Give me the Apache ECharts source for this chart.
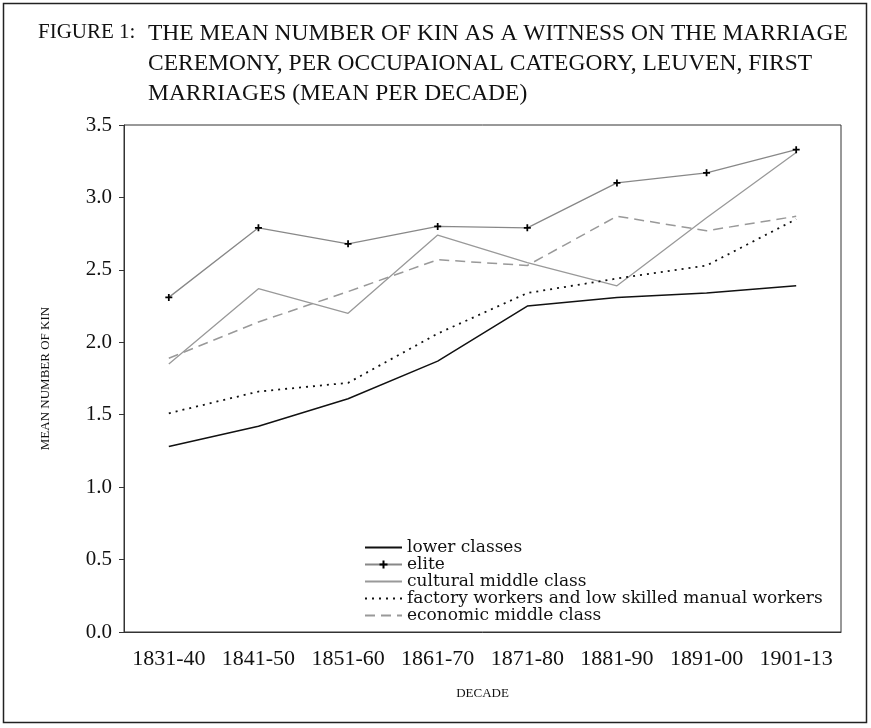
<!DOCTYPE html>
<html>
<head>
<meta charset="utf-8">
<script src="https://cdn.jsdelivr.net/npm/echarts@6/dist/echarts.min.js"></script>
<style>
  html, body { margin: 0; padding: 0; background: #fff; }
  #main { width: 871px; height: 728px; }
</style>
</head>
<body>
<div id="main"></div>
<script>
var decades = ['1831-40', '1841-50', '1851-60', '1861-70', '1871-80', '1881-90', '1891-00', '1901-13']
var lowerClasses = [1.28, 1.42, 1.61, 1.87, 2.25, 2.31, 2.34, 2.39]
var elite = [2.31, 2.79, 2.68, 2.80, 2.79, 3.10, 3.17, 3.33]
var culturalMiddle = [1.85, 2.37, 2.20, 2.74, 2.55, 2.39, 2.86, 3.31]
var factoryWorkers = [1.51, 1.66, 1.72, 2.06, 2.34, 2.44, 2.53, 2.85]
var economicMiddle = [1.89, 2.14, 2.35, 2.57, 2.53, 2.87, 2.77, 2.87]
var yTicks = ['0.0', '0.5', '1.0', '1.5', '2.0', '2.5', '3.0', '3.5']

var serif = 'Liberation Serif'
var chart = echarts.init(document.getElementById('main'))

// no marker in the legend except for the elite line
var hideMarker = { opacity: 0 }

var option = {
  animation: false,
  backgroundColor: '#fff',
  title: [{
    text: 'FIGURE 1:',
    left: 33,
    top: 17,
    textStyle: { fontFamily: serif, fontSize: 21, fontWeight: 'normal', color: '#111' }
  }, {
    text: 'THE MEAN NUMBER OF KIN AS A WITNESS ON THE MARRIAGE\nCEREMONY, PER OCCUPAIONAL CATEGORY, LEUVEN, FIRST\nMARRIAGES (MEAN PER DECADE)',
    left: 143,
    top: 14,
    textStyle: { fontFamily: serif, fontSize: 23.5, fontWeight: 'normal', color: '#111', lineHeight: 30 }
  }],
  graphic: [{
    type: 'rect',
    shape: { x: 3.5, y: 3.5, width: 863, height: 719 },
    style: { fill: 'none', stroke: '#222', lineWidth: 1.5 },
    silent: true
  }],
  legend: {
    orient: 'vertical',
    left: 359,
    top: 534,
    itemWidth: 37,
    itemHeight: 10,
    itemGap: 0,
    textStyle: { fontFamily: 'DejaVu Serif', fontSize: 17, color: '#111', lineHeight: 17 },
    data: [
      { name: 'lower classes', itemStyle: hideMarker },
      { name: 'elite' },
      { name: 'cultural middle class', itemStyle: hideMarker },
      { name: 'factory workers and low skilled manual workers', itemStyle: hideMarker },
      { name: 'economic middle class', itemStyle: hideMarker }
    ]
  },
  grid: {
    left: 124,
    right: 30,
    top: 125,
    bottom: 96,
    show: true,
    borderColor: '#333',
    borderWidth: 1
  },
  xAxis: {
    type: 'category',
    data: decades,
    name: 'DECADE',
    nameLocation: 'middle',
    nameGap: 55,
    nameTextStyle: { fontFamily: serif, fontSize: 13, color: '#111' },
    axisLine: { lineStyle: { color: '#333' } },
    axisTick: { length: 5, lineStyle: { color: '#333' } },
    axisLabel: { fontFamily: serif, fontSize: 22, color: '#111', margin: 16, interval: 0 },
    splitLine: { show: false }
  },
  yAxis: {
    type: 'value',
    min: 0,
    max: 3.5,
    interval: 0.5,
    name: 'MEAN NUMBER OF KIN',
    nameLocation: 'middle',
    nameGap: 72,
    nameRotate: 90,
    nameTextStyle: { fontFamily: serif, fontSize: 13, color: '#111' },
    axisLine: { show: true, lineStyle: { color: '#333' } },
    axisTick: { show: true, length: 5, lineStyle: { color: '#333' } },
    axisLabel: {
      fontFamily: serif, fontSize: 21, color: '#111', margin: 12,
      formatter: function (v) { return yTicks[Math.round(v * 2)] }
    },
    splitLine: { show: false }
  },
  series: [{
    name: 'lower classes',
    type: 'line',
    data: lowerClasses,
    symbol: 'none',
    lineStyle: { color: '#111', width: 1.5 },
    itemStyle: { color: '#111' }
  }, {
    name: 'elite',
    type: 'line',
    data: elite,
    symbol: 'path://M3,0h2v8h-2zM0,3h8v2h-8z',
    symbolSize: 7,
    showSymbol: true,
    lineStyle: { color: '#888', width: 1.3 },
    itemStyle: { color: '#000' }
  }, {
    name: 'cultural middle class',
    type: 'line',
    data: culturalMiddle,
    symbol: 'none',
    lineStyle: { color: '#999', width: 1.3 },
    itemStyle: { color: '#999' }
  }, {
    name: 'factory workers and low skilled manual workers',
    type: 'line',
    data: factoryWorkers,
    symbol: 'none',
    lineStyle: { color: '#111', width: 1.8, type: [2, 5] },
    itemStyle: { color: '#111' }
  }, {
    name: 'economic middle class',
    type: 'line',
    data: economicMiddle,
    symbol: 'none',
    lineStyle: { color: '#999', width: 1.5, type: [10, 6] },
    itemStyle: { color: '#999' }
  }]
}

chart.setOption(option)
</script>
</body>
</html>
